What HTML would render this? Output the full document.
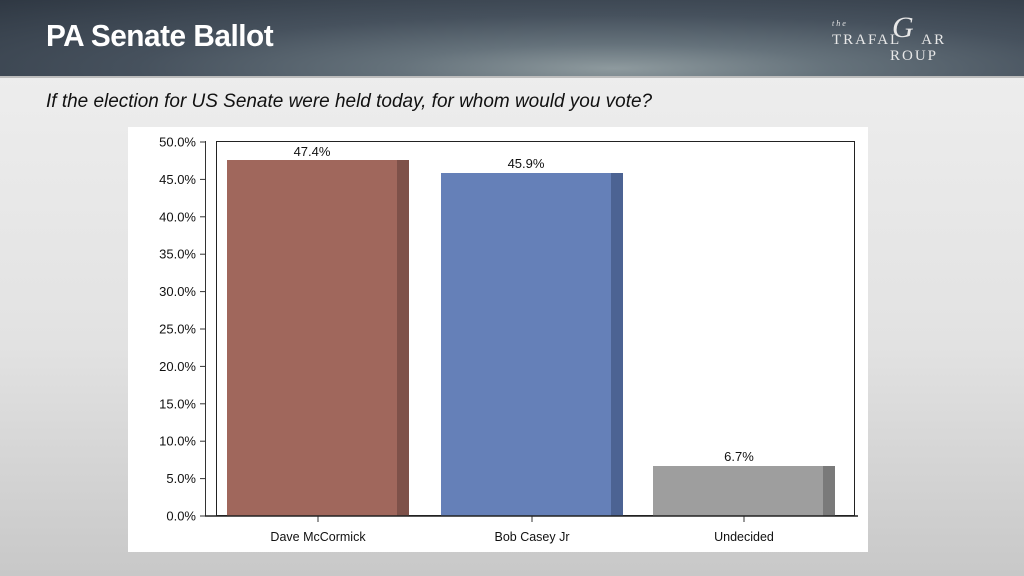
<!DOCTYPE html>
<html><head><style>
body{margin:0;width:1024px;height:576px;overflow:hidden;font-family:"Liberation Sans",sans-serif;}
.bg{position:absolute;left:0;top:0;width:1024px;height:576px;background:linear-gradient(180deg,#f0f0f0 0%,#e2e2e2 60%,#c8c8c8 100%);}
.hdr{position:absolute;left:0;top:0;width:1024px;height:76px;background:radial-gradient(ellipse at 60% 90%,#8e9a9e 0%,#65727b 25%,#46515d 55%,#2f3843 100%);}
.hline{position:absolute;left:0;top:76px;width:1024px;height:2px;background:#bdbdbd;}
.title{position:absolute;left:46px;top:18px;color:#fff;font-size:31px;font-weight:bold;letter-spacing:-0.5px;transform:scaleX(0.96);transform-origin:left top;}
.logo{position:absolute;left:832px;top:14px;color:#e8e8e8;font-family:"Liberation Serif",serif;font-size:15px;letter-spacing:2px;line-height:16px;}
.q{position:absolute;left:46px;top:90px;font-size:19.5px;font-style:italic;color:#111;transform:scaleX(0.973);transform-origin:left top;white-space:nowrap;}
</style></head><body>
<div class="bg"></div>
<div class="hdr"></div>
<div class="hline"></div>
<div class="title">PA Senate Ballot</div>
<div class="logo"><span style="font-size:8px;font-style:italic">the</span><br>TRAFAL<span style="display:inline-block;width:20px"></span>AR<br><span style="margin-left:58px">ROUP</span>
<span style="position:absolute;left:60px;top:6px;font-size:30px;font-style:italic">G</span></div>
<div class="q">If the election for US Senate were held today, for whom would you vote?</div>
<svg style="position:absolute;left:0;top:0" width="1024" height="576" font-family="Liberation Sans, sans-serif">
<rect x="128" y="127" width="740" height="425" fill="#fff"/>
<rect x="216.5" y="141.5" width="638" height="374" fill="none" stroke="#222" stroke-width="1"/>
<line x1="205.5" y1="141" x2="205.5" y2="516" stroke="#333"/>
<g stroke="#333">
<line x1="200" y1="142" x2="206" y2="142"/><line x1="200" y1="179.4" x2="206" y2="179.4"/><line x1="200" y1="216.8" x2="206" y2="216.8"/><line x1="200" y1="254.2" x2="206" y2="254.2"/><line x1="200" y1="291.6" x2="206" y2="291.6"/><line x1="200" y1="329" x2="206" y2="329"/><line x1="200" y1="366.4" x2="206" y2="366.4"/><line x1="200" y1="403.8" x2="206" y2="403.8"/><line x1="200" y1="441.2" x2="206" y2="441.2"/><line x1="200" y1="478.6" x2="206" y2="478.6"/><line x1="200" y1="516" x2="206" y2="516"/>
<line x1="318" y1="516" x2="318" y2="522"/><line x1="532" y1="516" x2="532" y2="522"/><line x1="744" y1="516" x2="744" y2="522"/>
</g>
<g font-size="13" fill="#111" text-anchor="end">
<text x="196" y="146.5">50.0%</text><text x="196" y="183.9">45.0%</text><text x="196" y="221.3">40.0%</text><text x="196" y="258.7">35.0%</text><text x="196" y="296.1">30.0%</text><text x="196" y="333.5">25.0%</text><text x="196" y="370.9">20.0%</text><text x="196" y="408.3">15.0%</text><text x="196" y="445.7">10.0%</text><text x="196" y="483.1">5.0%</text><text x="196" y="520.5">0.0%</text>
</g>
<rect x="227" y="160" width="170" height="356" fill="#a0675c"/><rect x="397" y="160" width="12" height="356" fill="#7e5149"/>
<rect x="441" y="173" width="170" height="343" fill="#6580b8"/><rect x="611" y="173" width="12" height="343" fill="#4c6393"/>
<rect x="653" y="466" width="170" height="50" fill="#9e9e9e"/><rect x="823" y="466" width="12" height="50" fill="#7a7a7a"/>
<line x1="205" y1="516" x2="858" y2="516" stroke="#222" stroke-width="1.5"/>
<g font-size="13" fill="#111" text-anchor="middle">
<text x="312" y="156">47.4%</text><text x="526" y="168">45.9%</text><text x="739" y="461">6.7%</text>
<text x="318" y="541" font-size="12.5">Dave McCormick</text><text x="532" y="541" font-size="12.5">Bob Casey Jr</text><text x="744" y="541" font-size="12.5">Undecided</text>
</g>
</svg>
</body></html>
